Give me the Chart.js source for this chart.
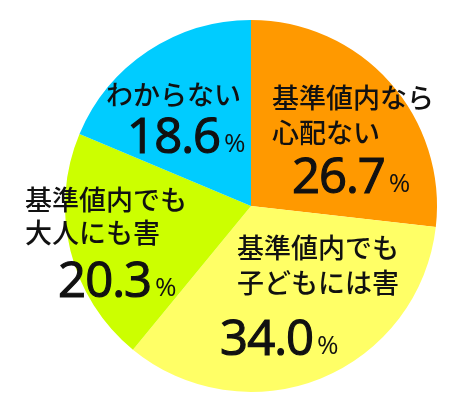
<!DOCTYPE html>
<html lang="ja">
<head>
<meta charset="utf-8">
<script src="https://cdn.jsdelivr.net/npm/chart.js@4/dist/chart.umd.min.js"></script>
<style>
  html, body { margin: 0; padding: 0; background: #fff; }
  #wrap { width: 472px; height: 412px; }
</style>
</head>
<body>
<div id="wrap"><canvas id="pieChart"></canvas></div>
<script>
// Data
const categories = [['基準値内なら', '心配ない'], ['基準値内でも', '子どもには害'], ['基準値内でも', '大人にも害'], ['わからない']];
const percents = [26.7, 34.0, 20.3, 18.6];
const sliceColors = ['#FF9900', '#FFFF66', '#CCFF00', '#00CCFF'];

// label placement per slice, in units of the pie radius from its centre
const labelLayout = [
    { textX: 0.113, lineY: [-0.58, -0.392], numX: 0.22, numY: -0.07 },
    { textX: -0.075, lineY: [0.226, 0.414], numX: -0.166, numY: 0.80 },
    { textX: -1.215, lineY: [-0.032, 0.145], numX: -1.037, numY: 0.489 },
    { textX: -0.78, lineY: [-0.597], numX: -0.666, numY: -0.285 }
];

const labelPlugin = {
    id: 'sliceLabels',
    afterDatasetsDraw(chart) {
        const ctx = chart.ctx;
        const meta = chart.getDatasetMeta(0);
        meta.data.forEach((arc, i) => {
            const r = arc.outerRadius;
            const cx = arc.x, cy = arc.y;
            const lay = labelLayout[i];
            ctx.save();
            ctx.fillStyle = '#111';
            ctx.strokeStyle = '#111';
            ctx.textAlign = 'left';

            // category text
            ctx.font = '500 27px "Noto Sans CJK JP"';
            ctx.textBaseline = 'middle';
            categories[i].forEach((line, j) => {
                ctx.fillText(line, cx + lay.textX * r, cy + lay.lineY[j] * r);
            });

            // percentage value (regular face thickened a little)
            const num = percents[i].toFixed(1);
            const nx = cx + lay.numX * r;
            const ny = cy + lay.numY * r;
            ctx.textBaseline = 'alphabetic';
            ctx.font = '49px "Open Sans"';
            ctx.letterSpacing = '-1px';
            ctx.lineWidth = 1.2;
            ctx.fillText(num, nx, ny);
            ctx.strokeText(num, nx, ny);
            const w = ctx.measureText(num).width;
            ctx.letterSpacing = '0px';
            ctx.font = '26px "Open Sans"';
            ctx.fillText('%', nx + w + 4, ny - 1);
            ctx.restore();
        });
    }
};

new Chart(document.getElementById('pieChart'), {
    type: 'pie',
    data: {
        labels: categories.map(c => c.join('')),
        datasets: [{
            data: percents,
            backgroundColor: sliceColors,
            borderWidth: 0
        }]
    },
    options: {
        responsive: true,
        maintainAspectRatio: false,
        animation: false,
        layout: { padding: { left: 65, right: 35, top: 20, bottom: 20 } },
        plugins: {
            legend: { display: false },
            tooltip: { enabled: false }
        }
    },
    plugins: [labelPlugin]
});
</script>
</body>
</html>
